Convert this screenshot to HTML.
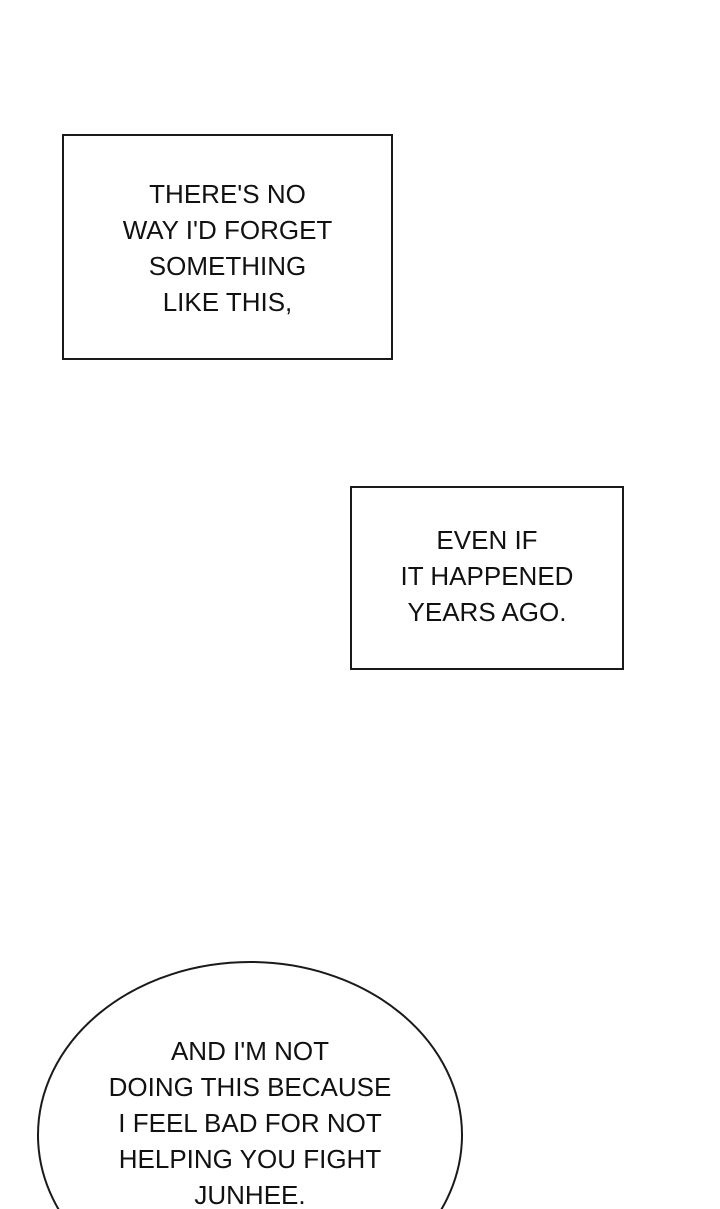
<!DOCTYPE html>
<html><head><meta charset="utf-8"><style>
html,body{margin:0;padding:0;background:#fff;width:720px;height:1209px;overflow:hidden;}
body{position:relative;}
.t{position:absolute;font-family:"Liberation Sans",sans-serif;font-size:26px;line-height:36px;text-align:center;color:#111;}
.box{position:absolute;border:2px solid #1a1a1a;box-sizing:border-box;background:#fff;}
</style></head><body>
<div class="box" style="left:62px;top:134px;width:331px;height:226px;"></div>
<div class="t" style="left:62px;top:176px;width:331px;">THERE'S NO<br>WAY I'D FORGET<br>SOMETHING<br>LIKE THIS,</div>
<div class="box" style="left:350px;top:486px;width:274px;height:184px;"></div>
<div class="t" style="left:350px;top:522px;width:274px;">EVEN IF<br>IT HAPPENED<br>YEARS AGO.</div>
<div style="position:absolute;left:0;top:940px;width:720px;height:269px;overflow:hidden;">
<svg style="position:absolute;left:0;top:0" width="720" height="269">
<ellipse cx="250" cy="195" rx="212" ry="173" fill="#fff" stroke="#1a1a1a" stroke-width="2"/>
</svg>
<div class="t" style="left:50px;top:93px;width:400px;height:176px;overflow:hidden;">AND I'M NOT<br>DOING THIS BECAUSE<br>I FEEL BAD FOR NOT<br>HELPING YOU FIGHT<br>JUNHEE.</div>
</div>
</body></html>
